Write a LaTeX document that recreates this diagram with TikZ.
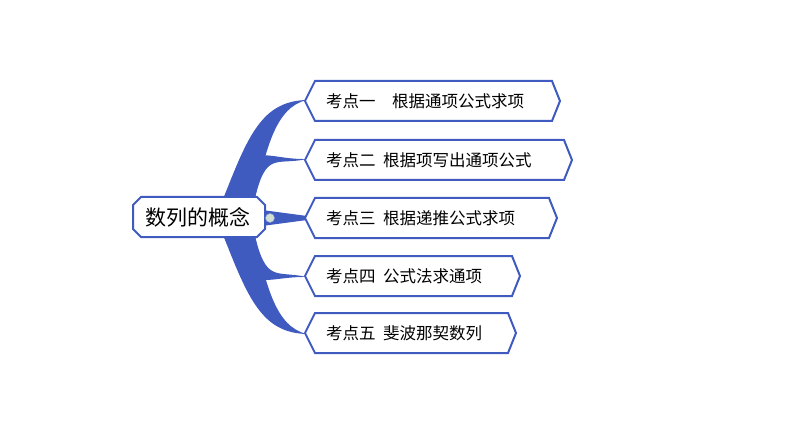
\documentclass[tikz,border=0pt]{standalone}
\usepackage{fontspec}
\setmainfont{Noto Sans CJK SC}
\begin{document}
\begin{tikzpicture}[x=1pt,y=-1pt,
  leaf/.style={draw=blue1,line width=2pt,fill=white},
  lbl/.style={font=\fontsize{16.5}{16.5}\selectfont,anchor=west,inner sep=0pt}]
\definecolor{blue1}{HTML}{3F5BC0}
\useasboundingbox (0,0) rectangle (794,446);
% branches
\foreach \ty in {101,160}{
  \fill[blue1] (222,202) .. controls (248,135) and (262,\ty) .. (307,\ty-1)
     .. controls (275,\ty+6) and (266,150) .. (254,202) -- cycle;}
\foreach \ty in {276,333}{
  \fill[blue1] (222,232) .. controls (248,299) and (262,\ty) .. (307,\ty+1)
     .. controls (275,\ty-6) and (266,284) .. (254,232) -- cycle;}
\fill[blue1] (262,210) -- (307,216) -- (307,220) -- (262,226) -- cycle;
% root
\draw[leaf] (141,197) -- (257,197) -- (265,205) -- (265,229) -- (257,237) -- (141,237) -- (133,229) -- (133,205) -- cycle;
\node[inner sep=0pt,font=\fontsize{21}{21}\selectfont] (root) at (198,217) {数列的概念};
\node[circle,draw=blue1!60,fill=green!20!gray!30,minimum size=9pt,inner sep=0pt] (c) at (270,218) {};
% leaves
\foreach \n/\ty/\xr/\t in {1/101/560/{考点一\quad 根据通项公式求项},2/160/572/{考点二\ \ 根据项写出通项公式},3/218/557/{考点三\ \ 根据递推公式求项},4/276/520/{考点四\ \ 公式法求通项},5/333/516/{考点五\ \ 斐波那契数列}}{
  \draw[leaf] (305,\ty) -- (315,\ty-20) -- (\xr-8,\ty-20) -- (\xr,\ty) -- (\xr-8,\ty+20) -- (315,\ty+20) -- cycle;
  \node[lbl] (l\n) at (326,\ty) {\t};
}
\end{tikzpicture}
\end{document}
